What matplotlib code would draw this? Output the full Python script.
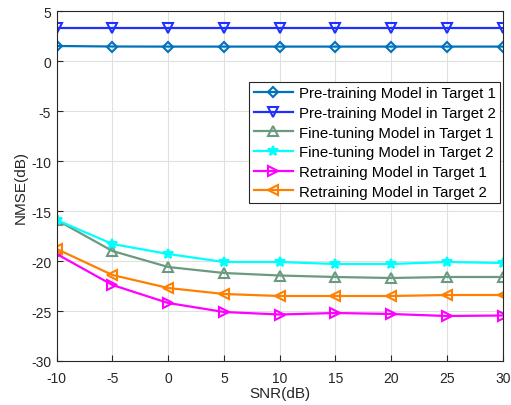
import matplotlib
matplotlib.use("Agg")
import matplotlib.pyplot as plt
import numpy as np

plt.rcParams["font.family"] = ["Liberation Sans", "DejaVu Sans"]
plt.rcParams["axes.unicode_minus"] = False

# Data
snr = [-10, -5, 0, 5, 10, 15, 20, 25, 30]
pre_t1 = [1.5, 1.45, 1.44, 1.44, 1.44, 1.44, 1.44, 1.44, 1.44]
pre_t2 = [3.27, 3.27, 3.27, 3.27, 3.27, 3.27, 3.27, 3.27, 3.27]
fine_t1 = [-15.9, -19.0, -20.6, -21.2, -21.45, -21.6, -21.7, -21.6, -21.6]
fine_t2 = [-15.9, -18.3, -19.3, -20.1, -20.1, -20.3, -20.3, -20.1, -20.2]
retrain_t1 = [-19.3, -22.4, -24.2, -25.1, -25.35, -25.2, -25.3, -25.5, -25.45]
retrain_t2 = [-18.8, -21.4, -22.7, -23.3, -23.5, -23.5, -23.5, -23.4, -23.4]

labels = [
    "Pre-training Model in Target 1",
    "Pre-training Model in Target 2",
    "Fine-tuning Model in Target 1",
    "Fine-tuning Model in Target 2",
    "Retraining Model in Target 1",
    "Retraining Model in Target 2",
]
series = [pre_t1, pre_t2, fine_t1, fine_t2, retrain_t1, retrain_t2]
colors = ["#0072bd", "#1f2fff", "#6b9a80", "#00ffff", "#ff00ff", "#ff8000"]
markers = ["D", "v", "^", "*", ">", "<"]
sizes = [5.5, 7, 7, 7, 7, 7]

fig = plt.figure(figsize=(5.11, 4.06), dpi=100)
ax = fig.add_axes([56.7 / 511, 44 / 406, 446 / 511, 350 / 406])

for y, lab, c, m, s in zip(series, labels, colors, markers, sizes):
    filled = m == "*"
    ax.plot(snr, y, color=c, marker=m, markersize=s, linewidth=1.6,
            markerfacecolor=c if filled else "none", markeredgewidth=1.5,
            label=lab)

ax.set_xlim(-10, 30)
ax.set_ylim(-30, 5)
ax.set_xticks(np.arange(-10, 31, 5))
ax.set_yticks(np.arange(-30, 6, 5))
ax.grid(True, color="#e0e0e0", linewidth=0.8)
ax.set_axisbelow(True)
ax.tick_params(direction="in", labelsize=10, colors="#262626", length=4)
ax.tick_params(axis="x", pad=7)
ax.tick_params(axis="y", pad=4)
for sp in ax.spines.values():
    sp.set_color("#262626")
    sp.set_linewidth(0.8)
ax.set_xlabel("SNR(dB)", fontsize=11, color="#262626", labelpad=1)
ax.set_ylabel("NMSE(dB)", fontsize=11, color="#262626", labelpad=2)

leg = ax.legend(loc="upper right", bbox_to_anchor=(0.994, 0.798),
                borderaxespad=0, fontsize=10.8, fancybox=False,
                edgecolor="#262626", framealpha=1, handlelength=2.6,
                labelspacing=0.38, borderpad=0.3, handletextpad=0.4)
leg.get_frame().set_linewidth(0.8)

fig.savefig("out.png", dpi=100)
